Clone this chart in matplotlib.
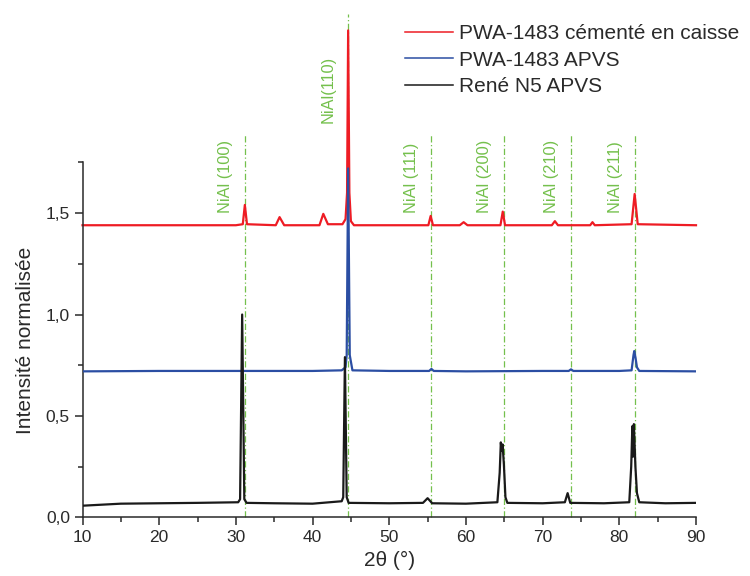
"""
XRD patterns of the aluminide coatings, stacked with offsets, with the NiAl reflections marked.
"""

import matplotlib
matplotlib.use("Agg")
import matplotlib.pyplot as plt
from matplotlib.ticker import MultipleLocator, FuncFormatter

plt.rcParams['font.family'] = ['Liberation Sans', 'DejaVu Sans']

# René N5 APVS (2theta, normalised intensity)
rene_tt = [10, 15, 20, 25, 30.3, 30.55, 30.82, 31.1, 31.4, 35, 40, 43.8, 44.0,
           44.22, 44.45, 44.7, 50, 54.4, 55.0, 55.6, 60, 64.1, 64.4, 64.55, 64.65,
           64.78, 64.95, 65.15, 65.4, 70, 72.9, 73.26, 73.6, 78, 81.3, 81.55, 81.7,
           81.8, 81.9, 82.1, 82.3, 82.6, 86, 90]
rene_int = [0.058, 0.068, 0.070, 0.072, 0.075, 0.09, 1.0, 0.09, 0.072, 0.070, 0.068,
            0.08, 0.10, 0.79, 0.10, 0.072, 0.070, 0.072, 0.095, 0.070, 0.068, 0.075,
            0.22, 0.37, 0.33, 0.36, 0.26, 0.10, 0.072, 0.070, 0.075, 0.12, 0.072,
            0.070, 0.075, 0.25, 0.45, 0.30, 0.46, 0.25, 0.12, 0.075, 0.070, 0.072]

# PWA-1483 APVS
apvs_tt = [10, 20, 30, 40, 43.8, 44.3, 44.45, 44.64, 44.85, 45.2, 50, 55.2, 55.5,
           55.8, 60, 70, 73.4, 73.7, 74.0, 80, 81.6, 81.85, 81.95, 82.1, 82.3, 82.6, 90]
apvs_int = [0.720, 0.722, 0.722, 0.722, 0.725, 0.74, 0.80, 1.72, 0.80, 0.725, 0.722,
            0.722, 0.732, 0.722, 0.720, 0.722, 0.722, 0.73, 0.722, 0.722, 0.725, 0.80,
            0.82, 0.79, 0.74, 0.722, 0.720]

# PWA-1483 cémenté en caisse
pack_tt = [10, 20, 30, 30.9, 31.17, 31.45, 35.2, 35.7, 36.3, 40.9, 41.4, 42.0, 43.9,
           44.3, 44.5, 44.64, 44.8, 45.0, 45.4, 50, 55.1, 55.4, 55.7, 59.2, 59.7, 60.2,
           64.5, 64.8, 65.1, 71.2, 71.6, 72.0, 76.2, 76.5, 76.8, 81.6, 82.0, 82.4, 90]
pack_int = [1.44, 1.44, 1.44, 1.445, 1.54, 1.445, 1.44, 1.48, 1.44, 1.44, 1.496, 1.445,
            1.445, 1.47, 1.6, 2.40, 1.6, 1.46, 1.44, 1.44, 1.44, 1.486, 1.44, 1.44, 1.455,
            1.44, 1.44, 1.507, 1.44, 1.44, 1.46, 1.44, 1.44, 1.455, 1.44, 1.445, 1.594,
            1.445, 1.44]

series_labels = ["PWA-1483 cémenté en caisse", "PWA-1483 APVS", "René N5 APVS"]

# NiAl reference reflections
nial_pos = [31.2, 44.6, 55.5, 65.0, 73.7, 82.1]
nial_labels = ["NiAl (100)", "NiAl(110)", "NiAl (111)", "NiAl (200)", "NiAl (210)", "NiAl (211)"]

x_ticks = [10, 20, 30, 40, 50, 60, 70, 80, 90]

RED = '#ee1c24'
BLUE = '#2b4ea3'
BLACK = '#1a1a1a'
GREEN = '#74c04c'
INK = '#2a2a2a'


def comma_fmt(v, pos):
    return f"{v:.1f}".replace('.', ',')


def main():
    fig = plt.figure(figsize=(7.5, 5.76), dpi=100)
    ax = fig.add_axes([0.110, 0.1016, 0.818, 0.6166])

    # reference lines first so the patterns sit on top
    for pos, lab in zip(nial_pos, nial_labels):
        top = 2.48 if lab == "NiAl(110)" else 1.885
        ax.plot([pos, pos], [0, top], color=GREEN, lw=0.9,
                ls=(0, (5, 2, 1, 2)), clip_on=False, zorder=1)
        ybot = 1.944 if lab == "NiAl(110)" else 1.50
        ax.annotate(lab, xy=(pos, ybot), xytext=(-14, 0), textcoords='offset points',
                    rotation=90, ha='center', va='bottom', color=GREEN,
                    fontsize=11.8, annotation_clip=False)

    ax.plot(pack_tt, pack_int, color=RED, lw=1.6, label=series_labels[0],
            clip_on=False, zorder=2)
    ax.plot(apvs_tt, apvs_int, color=BLUE, lw=1.6, label=series_labels[1], zorder=3)
    ax.plot(rene_tt, rene_int, color=BLACK, lw=1.6, label=series_labels[2], zorder=4)

    ax.set_xlim(10, 90)
    ax.set_ylim(0, 1.75)
    ax.set_xticks(x_ticks)
    ax.xaxis.set_minor_locator(MultipleLocator(5))
    ax.yaxis.set_major_locator(MultipleLocator(0.5))
    ax.yaxis.set_minor_locator(MultipleLocator(0.25))
    ax.yaxis.set_major_formatter(FuncFormatter(comma_fmt))

    for side in ['top', 'right']:
        ax.spines[side].set_visible(False)
    for side in ['left', 'bottom']:
        ax.spines[side].set_linewidth(1.1)
        ax.spines[side].set_color(INK)
    ax.tick_params(which='major', direction='out', length=6, width=1.1,
                   labelsize=12.5, colors=INK, pad=3)
    ax.tick_params(which='minor', direction='out', length=3.8, width=1.1, colors=INK)

    ax.set_xlabel("2θ (°)", fontsize=15, color=INK, labelpad=4)
    ax.set_ylabel("Intensité normalisée", fontsize=15, color=INK, labelpad=8)

    leg = ax.legend(loc='upper left', bbox_to_anchor=(405 / 750, 1 - 24 / 576),
                    bbox_transform=fig.transFigure, frameon=False, fontsize=15,
                    handlelength=2.29, handletextpad=0.32, labelspacing=0.36,
                    borderpad=0, borderaxespad=0)
    for t in leg.get_texts():
        t.set_color(INK)
    for h in leg.get_lines():
        h.set_linewidth(1.1)

    fig.savefig("out.png", dpi=100)
    plt.close(fig)


if __name__ == "__main__":
    main()
